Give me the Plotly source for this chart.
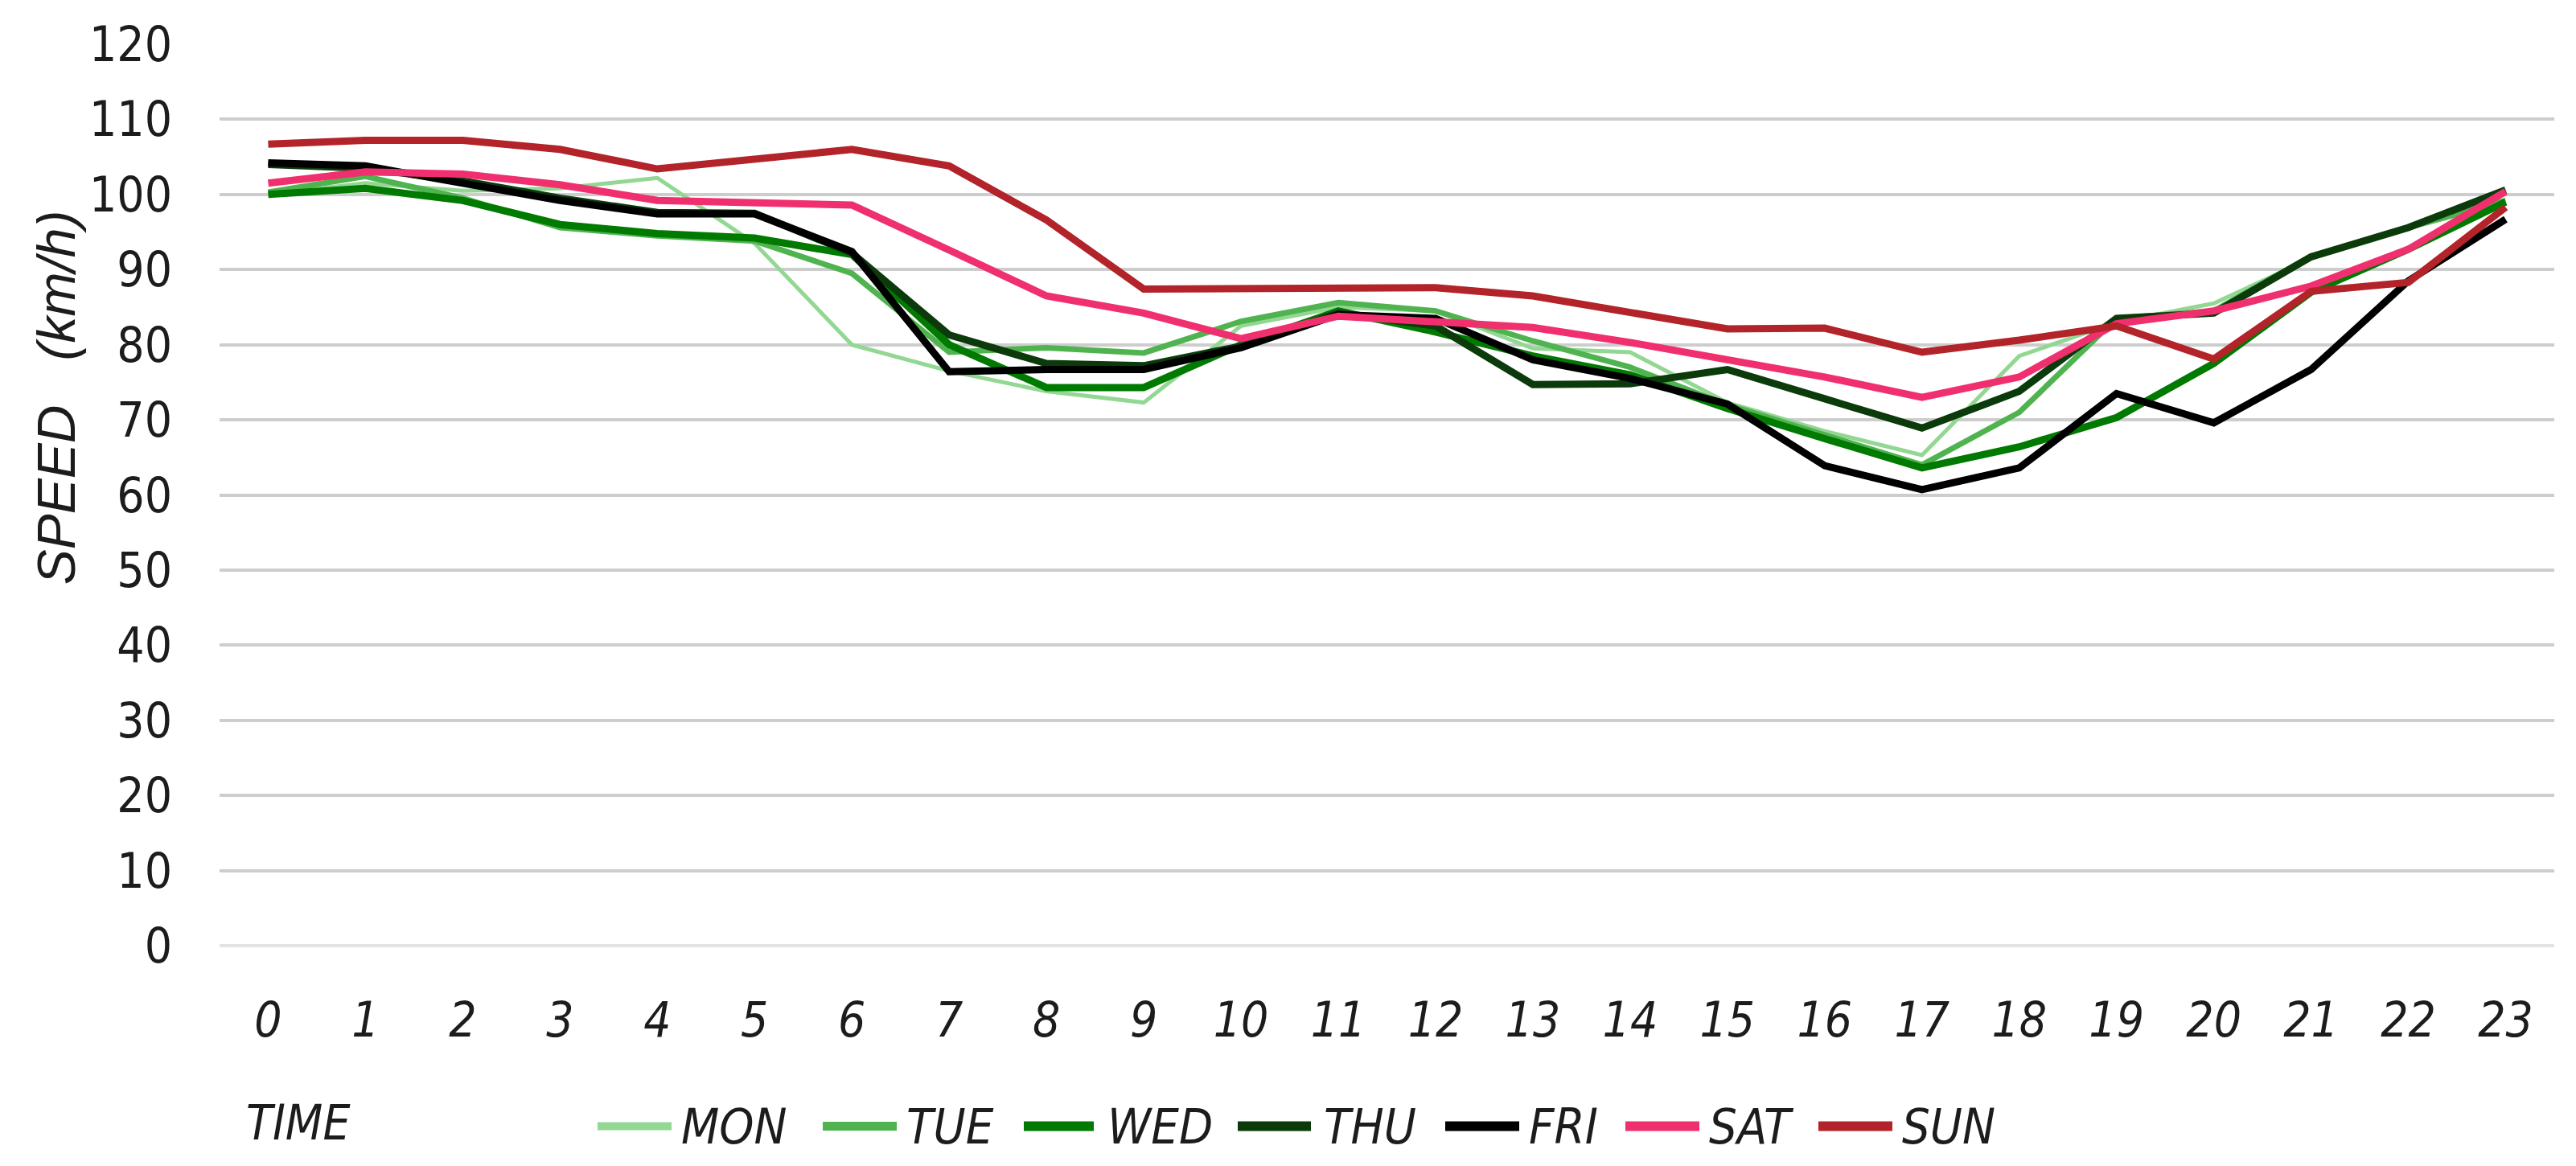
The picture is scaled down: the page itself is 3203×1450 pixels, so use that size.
import plotly.graph_objects as go

# ---------------- data ----------------
HOURS = list(range(24))
HOUR_LABELS = [str(h) for h in HOURS]
Y_TICKS = list(range(0, 121, 10))

DAYS = ["MON", "TUE", "WED", "THU", "FRI", "SAT", "SUN"]

MON = [100.0, 101.5, 100.5, 100.8, 102.2, 93.5, 80.0, 76.5, 73.8, 72.3, 82.5, 85.0,
       84.5, 79.5, 79.0, 72.3, 68.5, 65.3, 78.5, 83.0, 85.5, 91.5, 95.5, 99.0]
TUE = [100.3, 102.4, 99.5, 95.6, 94.5, 93.8, 89.5, 79.0, 79.6, 78.9, 83.1, 85.6,
       84.5, 80.5, 77.0, 72.0, 68.0, 64.0, 71.0, 83.5, 84.5, 91.8, 95.6, 99.2]
WED = [100.0, 100.8, 99.2, 96.0, 94.8, 94.2, 92.0, 80.0, 74.3, 74.3, 80.0, 84.5,
       81.7, 78.5, 76.0, 71.5, 67.5, 63.6, 66.4, 70.3, 77.5, 87.0, 92.7, 99.0]
THU = [104.0, 103.5, 101.8, 99.5, 97.6, 97.5, 92.2, 81.3, 77.5, 77.2, 79.8, 84.2,
       82.5, 74.7, 74.8, 76.7, 72.8, 68.9, 73.8, 83.5, 84.2, 91.7, 95.6, 100.6]
FRI = [104.2, 103.8, 101.5, 99.2, 97.4, 97.4, 92.4, 76.4, 76.7, 76.7, 79.6, 84.0,
       83.5, 78.0, 75.5, 72.1, 63.9, 60.7, 63.6, 73.5, 69.6, 76.7, 88.5, 96.7]
SAT = [101.5, 103.0, 102.7, 101.3, 99.2, 98.8, 98.6, 92.6, 86.5, 84.2, 80.8, 83.8,
       83.1, 82.3, 80.3, 78.1, 75.7, 73.0, 75.7, 82.8, 84.5, 87.8, 92.7, 100.4]
SUN = [106.7, 107.2, 107.2, 106.0, 103.4, 104.7, 106.0, 103.8, 96.6, 87.4, 87.4, 87.6,
       87.6, 86.5, 84.2, 82.1, 82.2, 79.0, 80.6, 82.5, 78.1, 87.1, 88.3, 98.3]

SERIES = [MON, TUE, WED, THU, FRI, SAT, SUN]

# ---------------- styles ----------------
COLORS = ["#92d792", "#4fb34f", "#007a00", "#0b3a0b", "#000000", "#f0306e", "#b3232a"]
WIDTHS = [5, 7, 9, 9, 9, 9, 9]
LEGEND_WIDTHS = [10, 11, 12, 12, 12, 12, 12]

W, H = 3203, 1450
PL, PR, PT, PB = 265, 35, 45, 282
PW = W - PL - PR
PH = H - PT - PB

NARROW = "DejaVu Sans Condensed, Liberation Sans Narrow, Liberation Sans, sans-serif"
REG = "Liberation Sans, Arial, sans-serif"
TXT = "#1c1c1c"


def px_x(px):
    return (px - PL) / PW


def px_y(py):
    return (H - PB - py) / PH


fig = go.Figure()
for name, vals, col, lw in zip(DAYS, SERIES, COLORS, WIDTHS):
    fig.add_trace(go.Scatter(
        x=HOURS, y=vals, mode="lines", name=name,
        line=dict(color=col, width=lw),
        showlegend=False,
    ))

annotations = []
shapes = []

# y axis title
annotations.append(dict(
    xref="paper", yref="paper", x=px_x(62), y=px_y(485),
    text="SPEED   (km/h)", textangle=-90, showarrow=False,
    font=dict(family=REG, size=66, color=TXT, style="italic"),
    xanchor="center", yanchor="middle",
))
# x axis title
annotations.append(dict(
    xref="paper", yref="paper", x=px_x(296), y=px_y(1388),
    text="TIME", showarrow=False,
    font=dict(family=NARROW, size=60, color=TXT, style="italic"),
    xanchor="left", yanchor="middle",
))

# custom legend (line sample + label)
LEG_LINE_X = [(735, 827), (1015, 1107), (1265, 1352), (1531, 1622),
              (1789, 1881), (2013, 2105), (2253, 2345)]
LEG_TEXT_X = [837, 1117, 1367, 1636, 1891, 2115, 2355]
LEG_Y = 1393
for name, col, lw, (x0, x1), tx in zip(DAYS, COLORS, LEGEND_WIDTHS, LEG_LINE_X, LEG_TEXT_X):
    shapes.append(dict(
        type="line", xref="paper", yref="paper",
        x0=px_x(x0), x1=px_x(x1), y0=px_y(LEG_Y), y1=px_y(LEG_Y),
        line=dict(color=col, width=lw),
    ))
    annotations.append(dict(
        xref="paper", yref="paper", x=px_x(tx), y=px_y(LEG_Y),
        text=name, showarrow=False,
        font=dict(family=NARROW, size=61, color=TXT, style="italic"),
        xanchor="left", yanchor="middle",
    ))

fig.update_layout(
    width=W, height=H,
    margin=dict(l=PL, r=PR, t=PT, b=PB),
    paper_bgcolor="white", plot_bgcolor="white",
    showlegend=False,
    xaxis=dict(
        range=[-0.5, 23.5],
        tickmode="array", tickvals=HOURS, ticktext=HOUR_LABELS,
        showgrid=False, showline=False, zeroline=False, ticks="",
        tickfont=dict(family=NARROW, size=60, color=TXT, style="italic"),
        ticklabelstandoff=52,
    ),
    yaxis=dict(
        range=[0, 120],
        tickmode="array", tickvals=Y_TICKS,
        showgrid=True, gridcolor="#cdcdcd", gridwidth=4,
        zeroline=True, zerolinecolor="#e3e3e3", zerolinewidth=4,
        showline=False, ticks="",
        tickfont=dict(family=NARROW, size=60, color=TXT),
        ticklabelstandoff=58,
    ),
    annotations=annotations,
    shapes=shapes,
)

fig.write_html("out.html")
